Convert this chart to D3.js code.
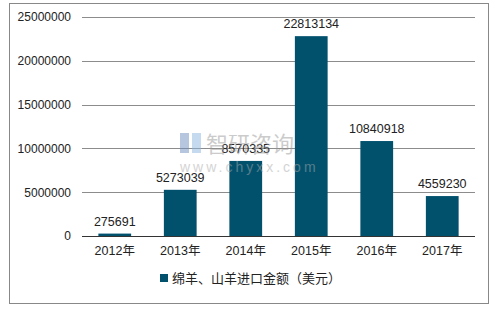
<!DOCTYPE html>
<html>
<head>
<meta charset="utf-8">
<script src="https://cdn.jsdelivr.net/npm/d3@7"></script>
<style>
body { margin: 0; background: #fff; }
text { font-family: "Liberation Sans", Arial, "Noto Sans CJK SC", sans-serif; }
</style>
</head>
<body>
<div id="chart"></div>
<script>
var years = ['2012年', '2013年', '2014年', '2015年', '2016年', '2017年'];
var values = [275691, 5273039, 8570335, 22813134, 10840918, 4559230];
var yTicks = [0, 5000000, 10000000, 15000000, 20000000, 25000000];
var seriesName = '绵羊、山羊进口金额（美元）';

var width = 495, height = 310;
var plotLeft = 82, plotRight = 475, plotTop = 17, plotBottom = 236;

var svg = d3.select('#chart').append('svg')
    .attr('width', width)
    .attr('height', height);

// outer frame
svg.append('rect')
    .attr('x', 9.5).attr('y', 3.5)
    .attr('width', 479).attr('height', 300)
    .attr('fill', 'none')
    .attr('stroke', '#888');

var x = d3.scaleBand().domain(years).range([plotLeft, plotRight]).paddingInner(0.5).paddingOuter(0.25);
var y = d3.scaleLinear().domain([0, 25000000]).range([plotBottom, plotTop]);

// grid
svg.append('g').selectAll('line').data(yTicks.slice(1))
    .enter().append('line')
    .attr('x1', plotLeft).attr('x2', plotRight)
    .attr('y1', function (d) { return Math.round(y(d)) + 0.5; })
    .attr('y2', function (d) { return Math.round(y(d)) + 0.5; })
    .attr('stroke', '#8c8c8c');

var yAxis = svg.append('g')
    .attr('transform', 'translate(' + plotLeft + ',0)')
    .call(d3.axisLeft(y).tickValues(yTicks).tickSize(0).tickPadding(11).tickFormat(d3.format('d')));
yAxis.select('.domain').remove();
yAxis.selectAll('text').attr('font-size', 12).attr('fill', '#222');

// bars
svg.append('g').selectAll('rect').data(values)
    .enter().append('rect')
    .attr('x', function (d, i) { return x(years[i]); })
    .attr('width', x.bandwidth())
    .attr('y', function (d) { return y(d); })
    .attr('height', function (d) { return plotBottom - y(d); })
    .attr('fill', '#01516d');

// value labels
svg.append('g').selectAll('text').data(values)
    .enter().append('text')
    .attr('x', function (d, i) { return x(years[i]) + x.bandwidth() / 2; })
    .attr('y', function (d) { return y(d) - 8; })
    .attr('text-anchor', 'middle')
    .attr('font-size', 12.5)
    .attr('fill', '#222')
    .text(function (d) { return d; });

// watermark (sits on top of the bars, like the original)
var wm = svg.append('g').attr('opacity', 0.5);
wm.append('rect').attr('x', 180).attr('y', 133).attr('width', 9).attr('height', 20).attr('fill', '#6f8fc0');
wm.append('rect').attr('x', 192).attr('y', 133).attr('width', 9).attr('height', 20).attr('fill', '#8fb6e0');
wm.append('text').attr('x', 206).attr('y', 152).attr('font-size', 22).attr('fill', '#999')
    .style('font-family', '"Noto Sans CJK SC", sans-serif').text('智研咨询');
wm.append('text').attr('x', 180).attr('y', 172).attr('font-size', 14).attr('fill', '#aaa')
    .attr('letter-spacing', 3).text('www.chyxx.com');

// baseline
svg.append('line')
    .attr('x1', plotLeft).attr('x2', plotRight)
    .attr('y1', plotBottom + 0.5).attr('y2', plotBottom + 0.5)
    .attr('stroke', '#333');

var xAxis = svg.append('g')
    .attr('transform', 'translate(0,' + plotBottom + ')')
    .call(d3.axisBottom(x).tickSize(0).tickPadding(10));
xAxis.select('.domain').remove();
xAxis.selectAll('text').attr('font-size', 12.5).attr('fill', '#222');

// legend
var lg = svg.append('g').attr('transform', 'translate(160,278)');
lg.append('rect').attr('x', 0).attr('y', -4).attr('width', 8).attr('height', 8).attr('fill', '#01516d');
lg.append('text').attr('x', 12).attr('y', 5).attr('font-size', 13).attr('fill', '#222')
    .style('font-family', '"Noto Sans CJK SC", sans-serif').text(seriesName);
</script>
</body>
</html>
